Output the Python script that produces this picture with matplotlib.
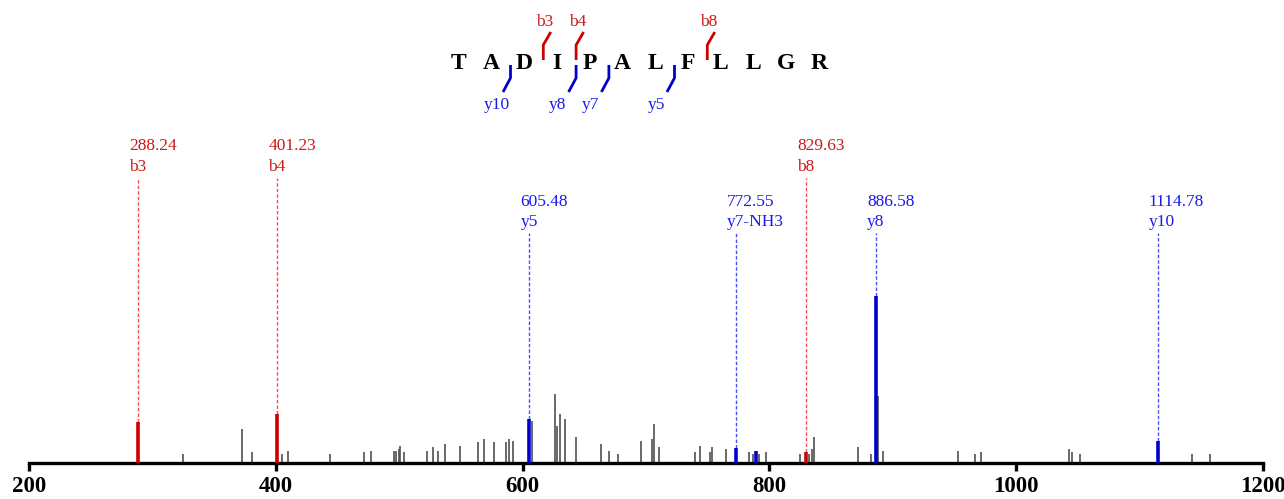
import matplotlib
matplotlib.use("Agg")
import matplotlib.pyplot as plt

# spectrum peaks (m/z, relative intensity %)
gray_mz = [324.5, 372.9, 381.0, 405.0, 410.0, 443.9, 471.5, 476.9, 495.8, 497.4,
           499.6, 500.9, 503.9, 522.3, 527.6, 531.4, 536.9, 549.3, 563.6, 568.7,
           576.8, 586.3, 589.0, 592.0, 607.9, 626.5, 627.6, 630.0, 634.1, 643.5,
           663.8, 670.3, 677.0, 695.7, 704.9, 706.2, 710.3, 739.7, 743.8, 751.6,
           753.2, 764.8, 783.8, 786.4, 791.8, 797.2, 825.0, 832.0, 834.5, 835.9,
           871.8, 882.3, 888.0, 892.0, 953.1, 966.4, 971.7, 1042.5, 1045.2, 1051.7,
           1142.5, 1157.0]
gray_int = [5, 20, 6, 5, 7, 5, 6, 7, 7, 7,
            8, 10, 6, 7, 9, 7, 11, 10, 12, 14,
            12, 12, 14, 13, 25, 41, 22, 29, 26, 15,
            11, 7, 5, 13, 14, 23, 9, 6, 10, 6,
            9, 8, 6, 5, 5, 6, 5, 5, 8, 15,
            9, 5, 40, 7, 7, 5, 6, 8, 6, 5,
            5, 5]

b_mz = [288.24, 401.23, 829.63]
b_int = [24, 29, 6]
b_names = ["b3", "b4", "b8"]

y_mz = [605.48, 772.55, 886.58, 1114.78]
y_int = [26, 8.5, 100, 13]
y_names = ["y5", "y7-NH3", "y8", "y10"]

extra_blue_mz = [788.9]
extra_blue_int = [7]

peptide = "TADIPALFLLGR"
b_cuts = [3, 4, 8]
y_cuts = [10, 8, 7, 5]

W, H = 1284, 499
fig = plt.figure(figsize=(W / 100, H / 100), dpi=100)
plt.rcParams['font.family'] = ['Liberation Serif', 'DejaVu Serif']

base_px = 462.5
top_px = 120
unit_px = 167 / 100.0
ax = fig.add_axes([29 / W, (H - base_px) / H, (1263 - 29) / W, (base_px - top_px) / H])
ymax = (base_px - top_px) / unit_px
ax.set_xlim(200, 1200)
ax.set_ylim(0, ymax)

RED = '#cc0000'
BLUE = '#0000cc'
RED_TXT = '#cc1a1a'
BLUE_TXT = '#1a1aee'

ax.vlines(gray_mz, 0, gray_int, color='#505050', lw=1.2, zorder=2)
ax.vlines(b_mz, 0, b_int, color=RED, lw=2.6, zorder=3)
ax.vlines(y_mz, 0, y_int, color=BLUE, lw=2.6, zorder=3)
ax.vlines(extra_blue_mz, 0, extra_blue_int, color=BLUE, lw=2.6, zorder=3)

def px2y(p):
    return (base_px - p) / unit_px

# labels with dashed leader lines
for mz, it, nm in zip(b_mz, b_int, b_names):
    ax.plot([mz, mz], [it, px2y(178)], color='#ff4d4d', lw=1.0,
            ls=(0, (2.5, 1.5)), zorder=1, clip_on=False)
    ax.annotate(f"{mz:.2f}", (mz, px2y(150.5)), xytext=(-6.5, 0), textcoords='offset points',
                ha='left', va='baseline', fontsize=12.5, color=RED_TXT, annotation_clip=False)
    ax.annotate(nm, (mz, px2y(171.5)), xytext=(-6.5, 0), textcoords='offset points',
                ha='left', va='baseline', fontsize=12.5, color=RED_TXT, annotation_clip=False)

for mz, it, nm in zip(y_mz, y_int, y_names):
    ax.plot([mz, mz], [it, px2y(233)], color='#4d4dff', lw=1.0,
            ls=(0, (2.5, 1.5)), zorder=1, clip_on=False)
    ax.annotate(f"{mz:.2f}", (mz, px2y(205.5)), xytext=(-6.5, 0), textcoords='offset points',
                ha='left', va='baseline', fontsize=12.5, color=BLUE_TXT, annotation_clip=False)
    ax.annotate(nm, (mz, px2y(226.5)), xytext=(-6.5, 0), textcoords='offset points',
                ha='left', va='baseline', fontsize=12.5, color=BLUE_TXT, annotation_clip=False)

for s in ['left', 'right', 'top']:
    ax.spines[s].set_visible(False)
ax.spines['bottom'].set_linewidth(2.4)
ax.set_yticks([])
ax.set_xticks([200, 400, 600, 800, 1000, 1200])
ax.tick_params(axis='x', direction='out', length=6, width=2.4, pad=4)
for lab in ax.get_xticklabels():
    lab.set_fontweight('bold')
    lab.set_fontsize(16.5)
ax.set_facecolor('none')

# peptide sequence with fragment markers, drawn in pixel space
ov = fig.add_axes([0, 0, 1, 1], zorder=5)
ov.set_xlim(0, W)
ov.set_ylim(H, 0)
ov.axis('off')
ov.patch.set_alpha(0)

x0, dx, ly = 458.3, 32.8, 63
for i, aa in enumerate(peptide):
    ov.text(x0 + i * dx, ly, aa, ha='center', va='center', fontsize=17,
            fontweight='bold', color='black')

n = len(peptide)
for k, nm in zip(b_cuts, b_names):
    xc = x0 + (k - 0.5) * dx + 3
    ov.plot([xc, xc, xc + 7.5], [60, 45, 32], color=RED, lw=2.0, solid_capstyle='butt')
    ov.text(xc - 7, 22, nm, ha='left', va='center', fontsize=12.5, color=RED_TXT)

for k in y_cuts:
    xc = x0 + (n - k - 0.5) * dx + 3
    ov.plot([xc, xc, xc - 7.5], [65, 78, 92], color=BLUE, lw=2.0, solid_capstyle='butt')
    ov.text(xc - 27, 105, f"y{k}", ha='left', va='center', fontsize=12.5, color=BLUE_TXT)

fig.savefig("out.png", dpi=100)
